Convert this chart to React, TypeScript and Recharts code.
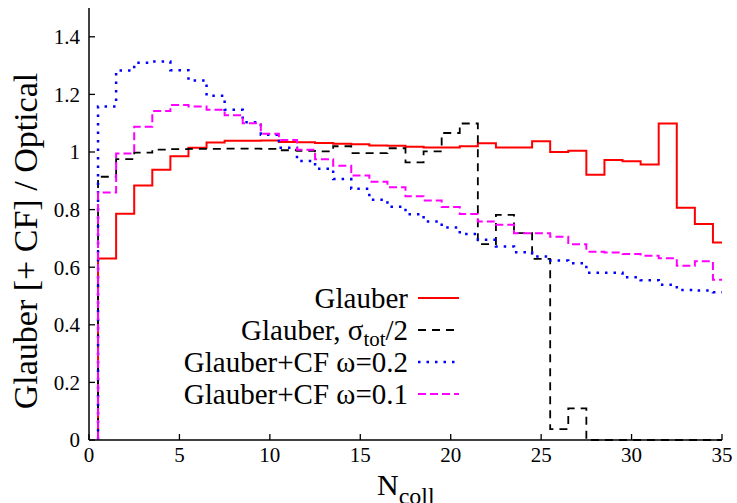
import React from "react";
import { Legend, Line, LineChart, XAxis, YAxis } from "recharts";

// bin edges of the N_coll histogram (unit-wide bins centred on integers, last bin cut at 35)
const binEdges = [
  0.5, 1.5, 2.5, 3.5, 4.5, 5.5, 6.5, 7.5, 8.5, 9.5, 10.5, 11.5, 12.5, 13.5, 14.5, 15.5, 16.5, 17.5,
  18.5, 19.5, 20.5, 21.5, 22.5, 23.5, 24.5, 25.5, 26.5, 27.5, 28.5, 29.5, 30.5, 31.5, 32.5, 33.5,
  34.5, 35,
];

const glauber = [
  0.63, 0.786, 0.884, 0.938, 0.985, 1.015, 1.033, 1.039, 1.039, 1.04, 1.035, 1.034, 1.031, 1.029,
  1.027, 1.023, 1.022, 1.018, 1.016, 1.016, 1.02, 1.03, 1.016, 1.016, 1.037, 1.0, 1.004, 0.921,
  0.972, 0.968, 0.957, 1.099, 0.806, 0.75, 0.686,
];

const glauberHalfSigma = [
  0.914, 0.975, 0.998, 1.008, 1.01, 1.011, 1.011, 1.012, 1.012, 1.011, 1.006, 1.004, 1.002, 1.02,
  0.996, 0.996, 1.013, 0.964, 1.002, 1.066, 1.099, 0.68, 0.782, 0.718, 0.629, 0.038, 0.11, 0, 0, 0,
  0, 0, 0, 0, 0,
];

const cfOmega02 = [
  1.158, 1.283, 1.31, 1.314, 1.284, 1.248, 1.195, 1.147, 1.103, 1.06, 1.015, 0.969, 0.942, 0.906,
  0.872, 0.834, 0.81, 0.784, 0.759, 0.738, 0.715, 0.695, 0.672, 0.652, 0.637, 0.623, 0.614, 0.581,
  0.581, 0.565, 0.555, 0.539, 0.521, 0.519, 0.513,
];

const cfOmega01 = [
  0.859, 0.995, 1.088, 1.142, 1.163, 1.158, 1.147, 1.128, 1.1, 1.063, 1.042, 1.008, 0.975, 0.952,
  0.918, 0.897, 0.878, 0.846, 0.832, 0.809, 0.785, 0.759, 0.747, 0.718, 0.718, 0.706, 0.68, 0.654,
  0.651, 0.646, 0.64, 0.631, 0.605, 0.621, 0.556,
];

const xTicks = [0, 5, 10, 15, 20, 25, 30, 35];
const yTicks = [0, 0.2, 0.4, 0.6, 0.8, 1, 1.2, 1.4];

const series = [
  { key: "glauber", label: "Glauber", color: "#ff0000", dash: undefined, width: 2 },
  { key: "half", label: "Glauber, σ", sub: "tot", tail: "/2", color: "#000000", dash: "8 6", width: 1.8 },
  { key: "cf02", label: "Glauber+CF ω=0.2", color: "#0000ff", dash: "2.5 6", width: 2.5 },
  { key: "cf01", label: "Glauber+CF ω=0.1", color: "#ff00ff", dash: "8 4", width: 2 },
];

// step data: each row starts a bin, a leading zero draws the rise at the first edge
const chartData: any[] = [{ x: binEdges[0], glauber: 0, half: 0, cf02: 0, cf01: 0 }];
glauber.forEach((_, i) => {
  chartData.push({
    x: binEdges[i],
    glauber: glauber[i],
    half: glauberHalfSigma[i],
    cf02: cfOmega02[i],
    cf01: cfOmega01[i],
  });
});
const last = glauber.length - 1;
chartData.push({
  x: binEdges[binEdges.length - 1],
  glauber: glauber[last],
  half: glauberHalfSigma[last],
  cf02: cfOmega02[last],
  cf01: cfOmega01[last],
});

const W = 737;
const H = 503;
const LEFT_W = 89;
const RIGHT_M = 15;
const TOP_M = 8;
const BOTTOM_H = 63;
const PLOT_LEFT = LEFT_W;
const PLOT_RIGHT = W - RIGHT_M;
const PLOT_TOP = TOP_M;
const PLOT_BOTTOM = H - BOTTOM_H;
const TICK = 6;
const FONT = "Liberation Serif, Tinos, DejaVu Serif, serif";

const BottomTick = (props: any) => {
  const { x, payload } = props;
  return (
    <g>
      <line x1={x} x2={x} y1={PLOT_BOTTOM} y2={PLOT_BOTTOM - TICK} stroke="#000" strokeWidth={1.3} />
      <text x={x} y={PLOT_BOTTOM + 22} textAnchor="middle" style={{ fontFamily: FONT, fontSize: 21 }} fill="#000">
        {payload.value}
      </text>
    </g>
  );
};

const TopTick = (props: any) => {
  const { x } = props;
  return <line x1={x} x2={x} y1={PLOT_TOP} y2={PLOT_TOP + TICK} stroke="#000" strokeWidth={1.3} />;
};

const LeftTick = (props: any) => {
  const { y, payload } = props;
  return (
    <g>
      <line x1={PLOT_LEFT} x2={PLOT_LEFT + TICK} y1={y} y2={y} stroke="#000" strokeWidth={1.3} />
      <text
        x={PLOT_LEFT - 9}
        y={y}
        dy="0.35em"
        textAnchor="end"
        style={{ fontFamily: FONT, fontSize: 21 }}
        fill="#000"
      >
        {String(payload.value)}
      </text>
    </g>
  );
};

const RightTick = (props: any) => {
  const { y } = props;
  return <line x1={PLOT_RIGHT} x2={PLOT_RIGHT - TICK} y1={y} y2={y} stroke="#000" strokeWidth={1.3} />;
};

const LegendBox = () => (
  <div style={{ fontFamily: FONT, color: "#000" }}>
    {series.map((s) => (
      <div
        key={s.key}
        style={{
          height: 32,
          display: "flex",
          alignItems: "center",
          justifyContent: "flex-end",
          whiteSpace: "nowrap",
        }}
      >
        <span style={{ fontSize: 29, lineHeight: "32px" }}>
          {s.label}
          {s.sub ? (
            <span style={{ fontSize: "0.72em", lineHeight: 0, position: "relative", top: "0.3em" }}>{s.sub}</span>
          ) : null}
          {s.tail ?? null}
        </span>
        <svg width={41} height={10} style={{ marginLeft: 10, flex: "none" }}>
          <line x1={0} x2={41} y1={5} y2={5} stroke={s.color} strokeWidth={s.width} strokeDasharray={s.dash} />
        </svg>
      </div>
    ))}
  </div>
);

export default function App() {
  return (
    <div style={{ position: "absolute", left: 0, top: 0, width: W, height: H, background: "#fff" }}>
      <LineChart
        width={W}
        height={H}
        data={chartData}
        margin={{ top: TOP_M, right: RIGHT_M, bottom: 0, left: 0 }}
      >
        <XAxis
          dataKey="x"
          type="number"
          domain={[0, 35]}
          ticks={xTicks}
          height={BOTTOM_H}
          tickLine={false}
          tick={<BottomTick />}
          axisLine={{ stroke: "#000", strokeWidth: 1.5 }}
          label={() => (
            <text x={377} y={495} style={{ fontFamily: FONT }} fill="#000">
              <tspan fontSize={30}>N</tspan>
              <tspan fontSize={24} dy={9}>coll</tspan>
            </text>
          )}
        />
        <XAxis
          xAxisId="top"
          orientation="top"
          dataKey="x"
          type="number"
          domain={[0, 35]}
          ticks={xTicks}
          height={0}
          tickLine={false}
          tick={<TopTick />}
          axisLine={{ stroke: "#000", strokeWidth: 1.5 }}
        />
        <YAxis
          type="number"
          domain={[0, 1.5]}
          ticks={yTicks}
          width={LEFT_W}
          tickLine={false}
          tick={<LeftTick />}
          axisLine={{ stroke: "#000", strokeWidth: 1.5 }}
          label={() => (
            <text
              x={37}
              y={241}
              transform="rotate(-90 37 241)"
              textAnchor="middle"
              style={{ fontFamily: FONT, fontSize: 34 }}
              fill="#000"
            >
              Glauber [+ CF] / Optical
            </text>
          )}
        />
        <YAxis
          yAxisId="right"
          orientation="right"
          type="number"
          domain={[0, 1.5]}
          ticks={yTicks}
          width={0}
          tickLine={false}
          tick={<RightTick />}
          axisLine={{ stroke: "#000", strokeWidth: 1.5 }}
        />
        <Legend
          verticalAlign="middle"
          align="center"
          content={<LegendBox />}
          wrapperStyle={{ position: "absolute", left: 100, top: 282, width: 359, height: 128 }}
        />
        {series.map((s) => (
          <Line
            key={s.key}
            dataKey={s.key}
            type="stepAfter"
            stroke={s.color}
            strokeWidth={s.width}
            strokeDasharray={s.dash}
            dot={false}
            activeDot={false}
            isAnimationActive={false}
          />
        ))}
      </LineChart>
    </div>
  );
}
